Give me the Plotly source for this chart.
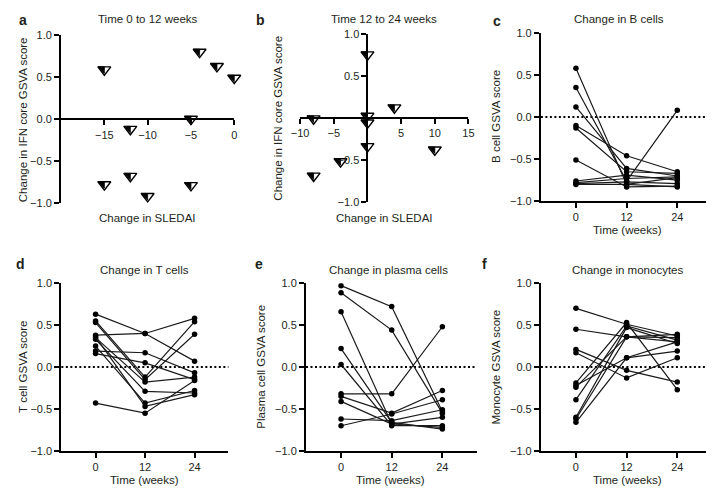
import plotly.graph_objects as go

# the page body keeps its 8px default margin, so the figure is 16px smaller than the window
W, H, PAD = 704, 483, 8

# a/b: change in SLEDAI vs change in IFN core GSVA score
a_sledai = [-15, -4, -2, 0, -5, -12, -15, -12, -10, -5]
a_ifn    = [0.60, 0.81, 0.64, 0.50, 0.01, -0.11, -0.77, -0.67, -0.91, -0.78]
b_sledai = [0, 4, -8, 0, 0, 0, 10, -4, -8]
b_ifn    = [0.76, 0.13, 0.0, 0.03, -0.05, -0.33, -0.37, -0.51, -0.68]

weeks = [0, 12, 24]

# c: B cell GSVA score per subject at 0, 12, 24 weeks
bc_wk0  = [0.58, 0.35, 0.12, -0.10, -0.13, -0.51, -0.76, -0.78, -0.79, -0.80]
bc_wk12 = [-0.80, -0.76, -0.61, -0.46, -0.65, -0.83, -0.69, -0.73, -0.77, -0.80]
bc_wk24 = [-0.72, 0.08, -0.70, -0.65, -0.67, -0.82, -0.75, -0.71, -0.79, -0.83]

# d: T cells
tc_wk0  = [0.63, 0.38, 0.55, 0.53, 0.35, 0.19, 0.16, 0.33, 0.25, 0.36, -0.43]
tc_wk12 = [0.40, 0.40, -0.12, -0.15, -0.18, 0.17, 0.05, -0.29, -0.43, -0.47, -0.55]
tc_wk24 = [0.07, 0.58, 0.54, 0.39, -0.12, -0.07, -0.15, -0.31, -0.28, -0.33, -0.16]

# e: plasma cells
pc_wk0  = [0.97, 0.885, 0.66, 0.22, 0.03, -0.32, -0.35, -0.41, -0.62, -0.70]
pc_wk12 = [0.72, 0.44, -0.68, -0.66, -0.70, -0.32, -0.55, -0.68, -0.64, -0.56]
pc_wk24 = [-0.53, -0.55, -0.72, -0.74, -0.70, 0.48, -0.28, -0.60, -0.51, -0.39]

# f: monocytes
mo_wk0  = [0.70, 0.45, 0.21, 0.17, -0.19, -0.22, -0.24, -0.39, -0.60, -0.62, -0.66]
mo_wk12 = [0.51, 0.36, -0.04, -0.13, 0.53, 0.11, 0.36, 0.49, 0.47, 0.36, 0.11]
mo_wk24 = [0.37, 0.35, -0.18, 0.11, -0.27, 0.19, 0.30, 0.32, 0.28, 0.39, 0.30]

FONT = "Liberation Sans, Arial, sans-serif"
INK = "#231f20"


def dom_x(x0, x1):
    return [max(0, (x0 - PAD) / W), min(1, (x1 - PAD) / W)]


def dom_y(y0, y1):
    return [1 - (y1 - PAD) / H, 1 - (y0 - PAD) / H]


axis_style = dict(showline=True, linecolor="black", linewidth=2, ticks="outside",
                  ticklen=5, tickwidth=2, tickcolor="black", showgrid=False,
                  zeroline=False, tickfont=dict(family=FONT, size=11, color=INK))
y_ticks = dict(range=[-1, 1], tickvals=[-1, -0.5, 0, 0.5, 1], tickformat=".1f")

fig = go.Figure()
annotations = []
shapes = []


def text(x, y, s, size=11.5, bold=False, angle=0):
    annotations.append(dict(x=(x - PAD) / W, y=1 - (y - PAD) / H, xref="paper", yref="paper",
                            text=f"<b>{s}</b>" if bold else s,
                            showarrow=False, textangle=angle, xanchor="center", yanchor="middle",
                            font=dict(family=FONT, size=size, color=INK)))


# half-filled down triangle = white outlined triangle + black right triangle over its left half.
# triangle-nw turned 90deg is pulled left by its standoff so its corner sits at the white top centre
R = 5.6
r_half = 0.642 * R
tri_white = dict(symbol="triangle-down", size=2 * R, standoff=0.5 * R - 0.6 * r_half,
                 color="white", line=dict(color="black", width=1.4))
tri_black = dict(symbol="triangle-nw", angle=90, size=2 * r_half, standoff=0.6 * r_half,
                 color="black", line=dict(color="black", width=0.8))


def add_triangles(xs, ys, xa, ya):
    for m in (tri_white, tri_black):
        fig.add_trace(go.Scatter(x=xs, y=ys, mode="markers", marker=m, cliponaxis=False,
                                 xaxis=xa, yaxis=ya, showlegend=False, hoverinfo="x+y"))


# ---- panel a
ax_a, ay_a = dom_x(53, 230), dom_y(30, 202)
add_triangles(a_sledai, a_ifn, "x", "y")
fig.update_layout(
    xaxis=dict(axis_style, domain=ax_a, range=[-20, 0], tickvals=[-15, -10, -5, 0],
               anchor="free", position=ay_a[0] + 0.5 * (ay_a[1] - ay_a[0])),
    yaxis=dict(axis_style, domain=ay_a, anchor="x", **y_ticks),
)

# ---- panel b
bx_b, by_b = dom_x(297.3, 469.3), dom_y(28.3, 201)
add_triangles(b_sledai, b_ifn, "x2", "y2")
fig.update_layout(
    xaxis2=dict(axis_style, domain=bx_b, range=[-10, 15], tickvals=[-10, -5, 5, 10, 15],
                anchor="free", position=by_b[0] + 0.5 * (by_b[1] - by_b[0])),
    yaxis2=dict(axis_style, domain=by_b, range=[-1, 1], tickvals=[-1, -0.5, 0.5, 1], tickformat=".1f",
                anchor="free", position=bx_b[0] + 10 / 25 * (bx_b[1] - bx_b[0])),
)

# ---- time course panels
panels = [
    (3, (543.3, 718), (27.3, 200), bc_wk0, bc_wk12, bc_wk24),
    (4, (53.3, 224), (284, 456), tc_wk0, tc_wk12, tc_wk24),
    (5, (303.3, 478), (284, 456), pc_wk0, pc_wk12, pc_wk24),
    (6, (543.3, 718), (284, 456), mo_wk0, mo_wk12, mo_wk24),
]
for n, (x0, x1), (y0, y1), w0, w12, w24 in panels:
    for v0, v12, v24 in zip(w0, w12, w24):
        fig.add_trace(go.Scatter(x=weeks, y=[v0, v12, v24], mode="lines+markers",
                                 line=dict(color="#1a1a1a", width=1.2),
                                 marker=dict(color="black", size=5.5),
                                 xaxis=f"x{n}", yaxis=f"y{n}", showlegend=False))
    # the right end is clipped by the page edge, so the range is cut to match
    right = 32.2 if x1 < 700 else 32.2 - (x1 - 712) / 4.3
    fig.layout[f"xaxis{n}"] = dict(axis_style, domain=dom_x(x0, min(x1, 712)), range=[-8.3, right],
                                   tickvals=weeks, anchor=f"y{n}")
    fig.layout[f"yaxis{n}"] = dict(axis_style, domain=dom_y(y0, y1), anchor=f"x{n}", **y_ticks)
    shapes.append(dict(type="line", xref=f"x{n} domain", yref=f"y{n}", x0=0, x1=1, y0=0, y1=0,
                       line=dict(color="black", width=2, dash="2px,2.5px"), layer="below"))

# titles, axis labels, panel letters
text(141.5, 13, "Time 0 to 12 weeks")
text(383, 13, "Time 12 to 24 weeks")
text(623, 13.5, "Change in B cells")
text(138, 271, "Change in T cells")
text(388, 271, "Change in plasma cells")
text(631.5, 271, "Change in monocytes")

text(141.5, 217, "Change in SLEDAI")
text(383, 217, "Change in SLEDAI")
text(631.5, 230, "Time (weeks)")
text(138, 486, "Time (weeks)")
text(390, 486, "Time (weeks)")
text(631.5, 486, "Time (weeks)")

text(14, 116, "Change in IFN core GSVA score", angle=-90)
text(275, 115, "Change in IFN core GSVA score", angle=-90)
text(498, 113, "B cell GSVA score", angle=-90)
text(14, 370, "T cell GSVA score", angle=-90)
text(257, 370, "Plasma cell GSVA score", angle=-90)
text(497, 370, "Monocyte GSVA score", angle=-90)

for lx, ly, s in [(14, 14, "a"), (257, 14, "b"), (498, 15, "c"), (12, 264, "d"), (255, 264, "e"), (486, 264, "f")]:
    text(lx, ly, s, size=14, bold=True)

fig.update_layout(
    width=W, height=H, margin=dict(l=0, r=0, t=0, b=0),
    paper_bgcolor="white", plot_bgcolor="white",
    annotations=annotations, shapes=shapes,
    font=dict(family=FONT, color=INK),
)

fig.write_html("out.html")
